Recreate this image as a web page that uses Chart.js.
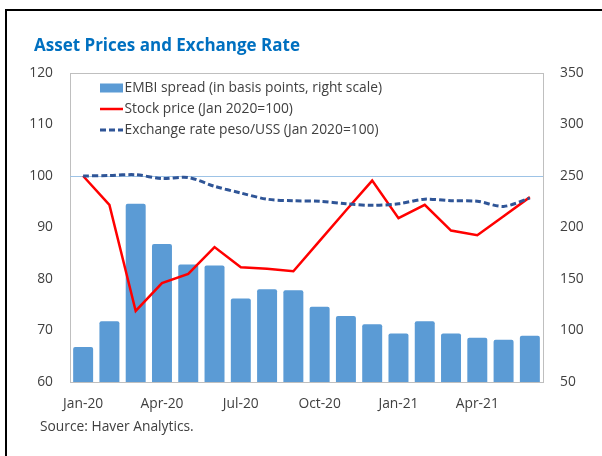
<!DOCTYPE html>
<html>
<head>
<meta charset="utf-8">
<script src="https://cdn.jsdelivr.net/npm/chart.js@4/dist/chart.umd.min.js"></script>
<style>
  html, body { margin: 0; padding: 0; background: #fff; }
  body { width: 602px; height: 456px; position: relative; overflow: hidden; font-family: "Open Sans", sans-serif; }
  #frame { position: absolute; left: 5px; top: 9px; width: 620px; height: 480px; border-left: 2px solid #000; border-top: 2px solid #000; }
  #title { position: absolute; left: 34px; top: 36px; font-size: 17px; line-height: 17px; font-weight: bold; color: #0070c0; white-space: nowrap; }
  #source { position: absolute; left: 40px; top: 418px; font-size: 13.8px; line-height: 16px; color: #404040; white-space: nowrap; }
  #wrap { position: absolute; left: 0; top: 0; width: 602px; height: 456px; }
</style>
</head>
<body>
<div id="frame"></div>
<div id="wrap"><canvas id="c" width="602" height="456"></canvas></div>
<div id="title">Asset Prices and Exchange Rate</div>
<div id="source">Source: Haver Analytics.</div>
<script>
const months = ['Jan-20','Feb-20','Mar-20','Apr-20','May-20','Jun-20','Jul-20','Aug-20','Sep-20','Oct-20','Nov-20','Dec-20','Jan-21','Feb-21','Mar-21','Apr-21','May-21','Jun-21'];
const embiSpread = [84,109,223,184,164,163,131,140,139,123,114,106,97,109,97,93,91,95];
const stockPrice = [100,94.4,73.8,79.2,81.0,86.2,82.3,82.0,81.5,87.4,93.3,99.1,91.8,94.4,89.4,88.5,92.2,95.9];
const exchangeRate = [100,100.1,100.25,99.5,99.7,98.0,96.7,95.5,95.2,95.1,94.6,94.3,94.6,95.5,95.2,95.1,94.1,95.7];
const leftTicks = [60,70,80,90,100,110,120];
const rightTicks = [50,100,150,200,250,300,350];
const referenceLevel = 100;
const seriesLabels = ['EMBI spread (in basis points, right scale)','Stock price (Jan 2020=100)','Exchange rate peso/USS (Jan 2020=100)'];

const FONT = { family: '"Open Sans", sans-serif', size: 13.8 };
const TXT = '#404040';

const framePlugin = {
  id: 'framePlugin',
  beforeDatasetsDraw(chart) {
    const { ctx, chartArea: a, scales } = chart;
    ctx.save();
    ctx.strokeStyle = '#bfbfbf';
    ctx.lineWidth = 1;
    ctx.strokeRect(Math.round(a.left) + 0.5, Math.round(a.top) + 0.5, Math.round(a.right - a.left), Math.round(a.bottom - a.top));
    const y = Math.round(scales.y.getPixelForValue(referenceLevel)) + 0.5;
    ctx.strokeStyle = '#9dc3e6';
    ctx.beginPath();
    ctx.moveTo(a.left, y);
    ctx.lineTo(a.right, y);
    ctx.stroke();
    ctx.restore();
  },
  afterDraw(chart) {
    const { ctx, chartArea: a } = chart;
    const ds = chart.data.datasets;
    const x0 = a.left + 30, sw = 23;
    const rows = [a.top + 15, a.top + 36, a.top + 57];
    ctx.save();
    ctx.font = FONT.size + 'px ' + FONT.family;
    ctx.textBaseline = 'middle';
    ds.forEach((d, i) => {
      const y = rows[i];
      if (d.type === 'bar') {
        ctx.fillStyle = d.backgroundColor;
        ctx.fillRect(x0, y - 4.5, sw, 9);
      } else {
        ctx.strokeStyle = d.borderColor;
        ctx.lineWidth = d.borderWidth;
        ctx.setLineDash(d.borderDash || []);
        ctx.beginPath();
        ctx.moveTo(x0, y);
        ctx.lineTo(x0 + sw, y);
        ctx.stroke();
        ctx.setLineDash([]);
      }
      ctx.fillStyle = TXT;
      ctx.fillText(d.label, x0 + sw + 1.5, y);
    });
    ctx.restore();
  }
};

new Chart(document.getElementById('c'), {
  data: {
    labels: months,
    datasets: [
      { type: 'bar', label: seriesLabels[0], data: embiSpread, yAxisID: 'y1', backgroundColor: '#5b9bd5',
        barPercentage: 0.76, categoryPercentage: 1.0, borderRadius: { topLeft: 2, topRight: 2 }, borderSkipped: 'bottom', order: 3 },
      { type: 'line', label: seriesLabels[1], data: stockPrice, yAxisID: 'y', borderColor: '#ff0000', backgroundColor: '#ff0000',
        borderWidth: 2.5, pointRadius: 0, tension: 0, order: 2 },
      { type: 'line', label: seriesLabels[2], data: exchangeRate, yAxisID: 'y', borderColor: '#2f5597', backgroundColor: '#2f5597',
        borderWidth: 3, borderDash: [6, 3], pointRadius: 0, tension: 0.3, order: 1 }
    ]
  },
  options: {
    responsive: false,
    animation: false,
    layout: { padding: { top: 73, left: 0, right: 0, bottom: 44 } },
    plugins: { legend: { display: false }, tooltip: { enabled: false }, title: { display: false } },
    scales: {
      x: {
        grid: { display: false, drawTicks: false }, border: { display: false },
        ticks: { font: FONT, color: TXT, padding: 14, autoSkip: false, maxRotation: 0,
          callback: (v, i) => (i % 3 === 0 ? months[i] : '') },
        afterFit: s => { s.height = 30; }
      },
      y: {
        position: 'left', min: leftTicks[0], max: leftTicks[leftTicks.length - 1],
        grid: { display: false, drawTicks: false }, border: { display: false },
        afterBuildTicks: s => { s.ticks = leftTicks.map(v => ({ value: v })); },
        ticks: { font: FONT, color: TXT, padding: 17 },
        afterFit: s => { s.width = 70; }
      },
      y1: {
        position: 'right', min: rightTicks[0], max: rightTicks[rightTicks.length - 1],
        grid: { display: false, drawTicks: false }, border: { display: false },
        afterBuildTicks: s => { s.ticks = rightTicks.map(v => ({ value: v })); },
        ticks: { font: FONT, color: TXT, padding: 17 },
        afterFit: s => { s.width = 59; }
      }
    }
  },
  plugins: [framePlugin]
});
</script>
</body>
</html>
